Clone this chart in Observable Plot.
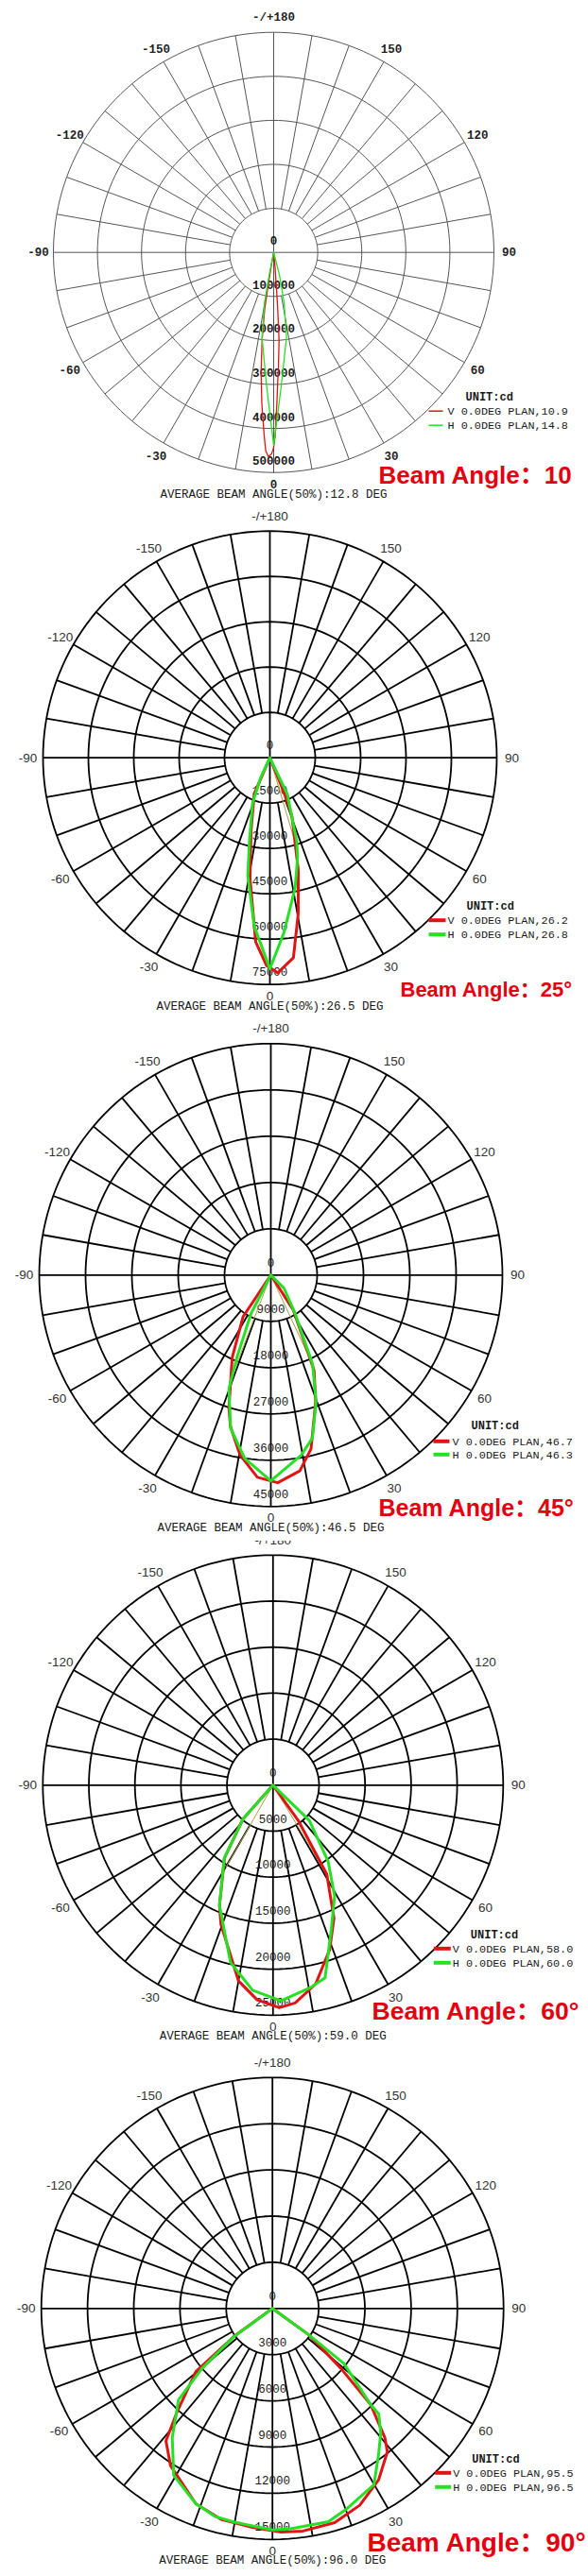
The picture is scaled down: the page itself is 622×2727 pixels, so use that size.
<!DOCTYPE html>
<html>
<head>
<meta charset="utf-8">
<script src="https://cdn.jsdelivr.net/npm/d3@7"></script>
<script src="https://cdn.jsdelivr.net/npm/@observablehq/plot@0.6"></script>
<style>
  html, body { margin: 0; padding: 0; background: #fff; }
  #wrap { width: 622px; }
  #wrap svg { display: block; }
</style>
</head>
<body>
<div id="wrap"></div>
<script>
// ---------------- DATA ----------------
const beamTitles = ["Beam Angle：10", "Beam Angle：25°", "Beam Angle：45°", "Beam Angle：60°", "Beam Angle：90°"];
const averageBeam = [12.8, 26.5, 46.5, 59.0, 96.0];
const vBeam = [10.9, 26.2, 46.7, 58.0, 95.5];
const hBeam = [14.8, 26.8, 46.3, 60.0, 96.5];
const ringTicks = [
  [100000, 200000, 300000, 400000, 500000],
  [15000, 30000, 45000, 60000, 75000],
  [9000, 18000, 27000, 36000, 45000],
  [5000, 10000, 15000, 20000, 25000],
  [3000, 6000, 9000, 12000, 15000]
];
const angleTicks = [-150, -120, -90, -60, -30, 0, 30, 60, 90, 120, 150, 180];
const spokeAngles = d3.range(-170, 181, 10);

// curves: [angle (deg, 0 = down), intensity (cd)]
const v10 = [[-90,0],[-10,30000],[-9.5,80000],[-9,130000],[-7.5,202000],[-6,273000],[-4.5,344000],[-3,415000],[-2.3,451000],[-1.5,464000],[-0.6,458000],[0,443000],[0.5,415000],[1.2,343000],[2.4,258000],[3.5,201000],[4.1,129000],[4.6,72000],[5.7,22000],[90,0]];
const h10 = [[-90,0],[-11.3,51000],[-10.3,116000],[-7.8,195000],[-2.9,308000],[0,438000],[3.1,308000],[8.6,195000],[11.7,117000],[14.4,52000],[90,0]];

const v25 = [[-90,0],[-23.5,13000],[-14.3,25300],[-9.3,40600],[-4.4,61100],[-0.9,68800],[2.1,71200],[6.7,66600],[10.3,52400],[14.2,38200],[20.7,20600],[22.2,12400],[90,0]];
const h25 = [[-90,0],[-24.8,7500],[-20.8,16200],[-13.8,28400],[-10.6,39700],[-5.3,56000],[0,69800],[4.6,58000],[10.9,44000],[15.6,34100],[17.8,29000],[25.6,13300],[90,0]];
const ghost25 = [[16.6,31000],[-22,12400]];

const v45 = [[-90,0],[-33.7,9700],[-25.1,17700],[-17.5,27100],[-14.9,30500],[-9.7,35500],[-3.8,39400],[1.9,40400],[8.4,38500],[13,34700],[19.5,26100],[24.4,20300],[32.7,8150],[90,0]];
const h45 = [[-90,0],[-27.3,8400],[-22.4,17300],[-20.2,23600],[-14.7,30800],[-8.1,36000],[0,40000],[9.6,35500],[14.3,32700],[19.7,26100],[25.1,19100],[32.3,8800],[45,3600],[90,0]];
const ghost45 = [[25,18400],[-21,19000]];

const v60 = [[-90,0],[-41.6,4900],[-33.7,9500],[-24,14300],[-20.5,16150],[-10,21600],[-4.2,23400],[1.6,24200],[5.8,23800],[12.1,22100],[19,18900],[24.6,15900],[31.1,11300],[35.5,4700],[90,0]];
const h60 = [[-90,0],[-41.6,4900],[-33.7,9550],[-24,14300],[-13.5,19800],[-5.7,22400],[2.1,23460],[10.6,22350],[15.1,21700],[21.8,17000],[29,13800],[35.9,10200],[45.8,5500],[90,0]];
const ghost60 = [[31,11650],[-29.8,10330]];

const v90 = [[-90,0],[-54,3100],[-50.5,6440],[-42.6,9160],[-38.8,11030],[-32.9,12170],[-21.4,13620],[-13.7,14100],[-5.2,14270],[2.2,14530],[7.8,14590],[16.2,14480],[23.9,13980],[31.7,13100],[38.7,11930],[41,11120],[45.6,8920],[48.8,5900],[54,2960],[90,0]];
const h90 = [[-90,0],[-53.8,3120],[-49.6,5990],[-45.8,8500],[-37.8,10610],[-30.6,12590],[-21.4,13620],[-15.5,14010],[-10.3,14090],[0,14380],[4.7,14360],[14.7,14310],[20.5,13860],[29.9,13210],[35.9,11740],[41,10710],[45.2,9720],[45.6,8920],[52.4,5860],[54,2960],[90,0]];

const vCurves = [v10, v25, v45, v60, v90];
const hCurves = [h10, h25, h45, h60, h90];
const ghosts = [[], ghost25, ghost45, ghost60, []];

// ---------------- LAYOUT (pixels) ----------------
const layout = [
  {h:535, cx:289,   cy:266.7, R:233,   thin:true,  beamX:400, beamDy:236, beamSize:26,   avgDy:256, unit:[203,153], line:[164,179], txt:184, vDy:168, hDy:183, topDy:16, botDy:13},
  {h:541, cx:285,   cy:266.7, R:240,   thin:false, beamX:423, beamDy:246, beamSize:22,   avgDy:263, unit:[208,157], line:[168,186], txt:188, vDy:172, hDy:187, topDy:16, botDy:12},
  {h:555, cx:286,   cy:273.3, R:245,   thin:false, beamX:400, beamDy:247, beamSize:25,   avgDy:267, unit:[212,159], line:[172,189], txt:192, vDy:176, hDy:190, topDy:16, botDy:12},
  {h:539, cx:288.3, cy:258.3, R:243.5, thin:false, beamX:393, beamDy:240, beamSize:26.5, avgDy:265, unit:[209,158], line:[170,188], txt:190, vDy:173, hDy:188, topDy:16, botDy:12},
  {h:557, cx:287.7, cy:273.3, R:244.5, thin:false, beamX:388, beamDy:248, beamSize:28,   avgDy:266, unit:[211,159], line:[172,189], txt:191, vDy:174, hDy:189, topDy:16, botDy:12}
];

const W = 622;
const RED = "#e01414", GREEN = "#26e026";
const MONO = "Liberation Mono, Courier New, monospace";
const SANS = "Liberation Sans, Arial, 'Noto Sans CJK SC', sans-serif";

function px(a, v) { const t = a * Math.PI / 180; return v * Math.sin(t); }
function py(a, v) { const t = a * Math.PI / 180; return v * Math.cos(t); }

function makeChart(i) {
  const L = layout[i];
  const ticks = ringTicks[i];
  const max = ticks[ticks.length - 1];
  const k = max / L.R; // cd per pixel
  const thin = L.thin;
  const gridColor = thin ? "#555" : "#000";
  const gridW = thin ? 1 : 1.8;
  const curveW = thin ? 1.3 : 3;

  const circ = [];
  ticks.forEach(r => d3.range(0, 361, 2).forEach(a => circ.push({a, r})));
  const spokes = spokeAngles.filter(a => a % 90 !== 0);
  const axes = [0, 90];

  const labelR = a => (a === 0 ? L.R + L.botDy : L.R + L.topDy) * k;
  const angleLabel = a => a === 180 ? "-/+180" : String(a);
  const pxOff = d => d * k;

  const marks = [
    Plot.line(circ, {x: d => px(d.a, d.r), y: d => py(d.a, d.r), z: "r", stroke: gridColor, strokeWidth: gridW}),
    Plot.link(spokes, {x1: a => px(a, ticks[0]), y1: a => py(a, ticks[0]), x2: a => px(a, max), y2: a => py(a, max), stroke: gridColor, strokeWidth: gridW}),
    Plot.link(axes, {x1: a => px(a, max), y1: a => py(a, max), x2: a => px(a + 180, max), y2: a => py(a + 180, max), stroke: gridColor, strokeWidth: gridW}),
    Plot.text(angleTicks, {
      x: a => px(a, labelR(a)), y: a => py(a, labelR(a)), text: angleLabel,
      fontFamily: thin ? MONO : SANS, fontSize: thin ? 12.5 : 13.5, fontWeight: thin ? "bold" : "normal",
      fill: thin ? "#222" : "#333"
    }),
    Plot.text([0, ...ticks], {
      x: () => 0, y: d => d - pxOff(thin ? 12 : 13), text: d => String(d),
      fontFamily: MONO, fontSize: 12.5, fontWeight: thin ? "bold" : "normal", fill: "#1a1a1a"
    }),
    Plot.link(ghosts[i], {x1: () => 0, y1: () => 0, x2: d => px(d[0], d[1]), y2: d => py(d[0], d[1]), stroke: "#a4a046", strokeWidth: 1}),
    Plot.line(vCurves[i], {x: d => px(d[0], d[1]), y: d => py(d[0], d[1]), stroke: RED, strokeWidth: curveW, strokeLinejoin: "round"}),
    Plot.line(hCurves[i], {x: d => px(d[0], d[1]), y: d => py(d[0], d[1]), stroke: GREEN, strokeWidth: curveW, strokeLinejoin: "round"}),
    Plot.text(["UNIT:cd"], {x: () => pxOff(L.unit[0]), y: () => pxOff(L.unit[1]), text: d => d, textAnchor: "start", fontFamily: MONO, fontSize: 12, fontWeight: "bold", fill: "#1a1a1a"}),
    Plot.link([{c: RED, dy: L.vDy}, {c: GREEN, dy: L.hDy}], {x1: () => pxOff(L.line[0]), x2: () => pxOff(L.line[1]), y1: d => pxOff(d.dy), y2: d => pxOff(d.dy), stroke: d => d.c, strokeWidth: thin ? 1.5 : 4}),
    Plot.text([`V 0.0DEG PLAN,${vBeam[i].toFixed(1)}`, `H 0.0DEG PLAN,${hBeam[i].toFixed(1)}`], {
      x: () => pxOff(L.txt), y: (d, j) => pxOff(j === 0 ? L.vDy : L.hDy), text: d => d, textAnchor: "start",
      fontFamily: MONO, fontSize: 11.8, fill: "#1a1a1a"
    }),
    Plot.text([`AVERAGE BEAM ANGLE(50%):${averageBeam[i].toFixed(1)} DEG`], {x: () => 0, y: () => pxOff(L.avgDy), text: d => d, fontFamily: MONO, fontSize: 12.5, fill: "#1a1a1a"}),
    Plot.text([beamTitles[i]], {x: () => pxOff(L.beamX - L.cx), y: () => pxOff(L.beamDy), text: d => d, textAnchor: "start", fontFamily: SANS, fontSize: L.beamSize, fontWeight: "bold", fill: "#e3000f"})
  ];

  return Plot.plot({
    width: W, height: L.h, margin: 0,
    x: {type: "linear", domain: [-L.cx * k, (W - L.cx) * k], range: [0, W], axis: null},
    y: {type: "linear", domain: [-L.cy * k, (L.h - L.cy) * k], range: [0, L.h], axis: null},
    style: {background: "#fff", overflow: "hidden"},
    marks
  });
}

const wrap = document.getElementById("wrap");
for (let i = 0; i < layout.length; i++) wrap.appendChild(makeChart(i));
</script>
</body>
</html>
